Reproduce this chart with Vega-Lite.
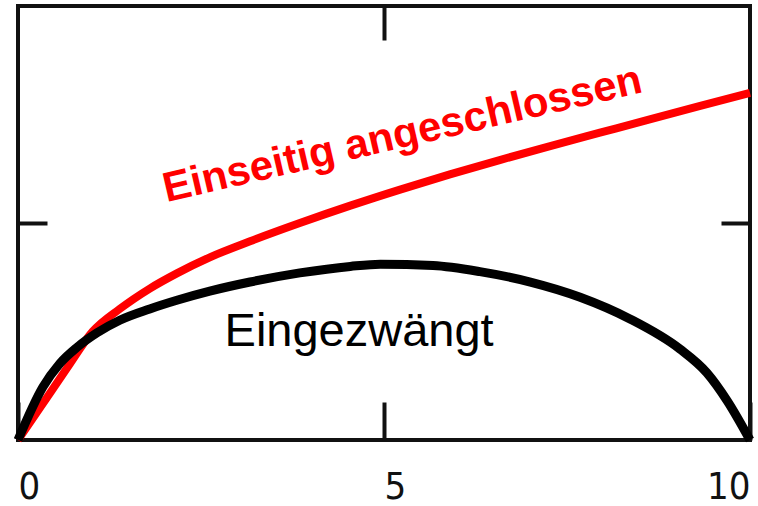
{
  "$schema": "https://vega.github.io/schema/vega-lite/v6.json",
  "width": 732,
  "height": 434,
  "autosize": {"type": "none"},
  "padding": {"left": 18, "top": 6, "right": 8, "bottom": 66},
  "background": "white",
  "config": {
    "view": {"stroke": "#111111", "strokeWidth": 4},
    "axis": {"grid": false, "domain": false, "tickColor": "#111111", "tickWidth": 4}
  },
  "datasets": {
    "curves": [
      {"series": "Eingezwängt", "x": 0, "y": 0},
      {"series": "Eingezwängt", "x": 0.34, "y": 0.122},
      {"series": "Eingezwängt", "x": 0.57, "y": 0.176},
      {"series": "Eingezwängt", "x": 0.81, "y": 0.214},
      {"series": "Eingezwängt", "x": 1.08, "y": 0.247},
      {"series": "Eingezwängt", "x": 1.39, "y": 0.276},
      {"series": "Eingezwängt", "x": 1.8, "y": 0.302},
      {"series": "Eingezwängt", "x": 2.17, "y": 0.322},
      {"series": "Eingezwängt", "x": 2.62, "y": 0.343},
      {"series": "Eingezwängt", "x": 3.17, "y": 0.364},
      {"series": "Eingezwängt", "x": 3.85, "y": 0.385},
      {"series": "Eingezwängt", "x": 4.54, "y": 0.4},
      {"series": "Eingezwängt", "x": 4.95, "y": 0.405},
      {"series": "Eingezwängt", "x": 5.67, "y": 0.402},
      {"series": "Eingezwängt", "x": 6.31, "y": 0.388},
      {"series": "Eingezwängt", "x": 7.0, "y": 0.364},
      {"series": "Eingezwängt", "x": 7.68, "y": 0.329},
      {"series": "Eingezwängt", "x": 8.36, "y": 0.279},
      {"series": "Eingezwängt", "x": 9.04, "y": 0.21},
      {"series": "Eingezwängt", "x": 9.41, "y": 0.155},
      {"series": "Eingezwängt", "x": 9.69, "y": 0.09},
      {"series": "Eingezwängt", "x": 10, "y": 0},
      {"series": "Einseitig angeschlossen", "x": 0, "y": 0},
      {"series": "Einseitig angeschlossen", "x": 0.34, "y": 0.084},
      {"series": "Einseitig angeschlossen", "x": 0.67, "y": 0.166},
      {"series": "Einseitig angeschlossen", "x": 1.02, "y": 0.25},
      {"series": "Einseitig angeschlossen", "x": 1.39, "y": 0.302},
      {"series": "Einseitig angeschlossen", "x": 1.8, "y": 0.349},
      {"series": "Einseitig angeschlossen", "x": 2.17, "y": 0.384},
      {"series": "Einseitig angeschlossen", "x": 2.62, "y": 0.421},
      {"series": "Einseitig angeschlossen", "x": 3.17, "y": 0.458},
      {"series": "Einseitig angeschlossen", "x": 3.85, "y": 0.5},
      {"series": "Einseitig angeschlossen", "x": 4.54, "y": 0.54},
      {"series": "Einseitig angeschlossen", "x": 5.22, "y": 0.577},
      {"series": "Einseitig angeschlossen", "x": 5.9, "y": 0.612},
      {"series": "Einseitig angeschlossen", "x": 6.58, "y": 0.645},
      {"series": "Einseitig angeschlossen", "x": 7.27, "y": 0.677},
      {"series": "Einseitig angeschlossen", "x": 7.95, "y": 0.708},
      {"series": "Einseitig angeschlossen", "x": 8.63, "y": 0.739},
      {"series": "Einseitig angeschlossen", "x": 9.32, "y": 0.77},
      {"series": "Einseitig angeschlossen", "x": 10, "y": 0.8}
    ],
    "labels": [
      {"series": "Einseitig angeschlossen", "x": 5.29, "y": 0.675},
      {"series": "Eingezwängt", "x": 4.66, "y": 0.217}
    ]
  },
  "resolve": {"axis": {"x": "independent", "y": "independent"}},
  "layer": [
    {
      "data": {"name": "curves"},
      "transform": [{"filter": "datum.series === 'Einseitig angeschlossen'"}],
      "mark": {"type": "line", "color": "#ff0000", "strokeWidth": 8, "interpolate": "monotone"},
      "encoding": {
        "x": {
          "field": "x", "type": "quantitative",
          "scale": {"domain": [0, 10], "nice": false, "zero": false},
          "axis": {"orient": "top", "values": [5], "labels": false, "title": null, "tickSize": -34}
        },
        "y": {
          "field": "y", "type": "quantitative",
          "scale": {"domain": [0, 1], "nice": false},
          "axis": {"orient": "right", "values": [0.5], "labels": false, "title": null, "tickSize": -29}
        }
      }
    },
    {
      "data": {"name": "curves"},
      "transform": [{"filter": "datum.series === 'Eingezwängt'"}],
      "mark": {"type": "line", "color": "#000000", "strokeWidth": 9, "interpolate": "monotone"},
      "encoding": {
        "x": {
          "field": "x", "type": "quantitative",
          "axis": {
            "orient": "bottom", "values": [0, 5, 10], "title": null, "tickSize": -38,
            "labelPadding": 66,
            "labelFont": "DejaVu Sans Condensed, DejaVu Sans, sans-serif",
            "labelFontSize": 38, "labelColor": "#111111",
            "labelAlign": {"condition": {"test": "datum.value === 10", "value": "right"}, "value": "left"},
            "labelFlush": false
          }
        },
        "y": {
          "field": "y", "type": "quantitative",
          "axis": {"orient": "left", "values": [0.5], "labels": false, "title": null, "tickSize": -29}
        }
      }
    },
    {
      "data": {"name": "labels"},
      "transform": [{"filter": "datum.series === 'Einseitig angeschlossen'"}],
      "mark": {
        "type": "text", "color": "#ff0000", "font": "Liberation Sans", "fontWeight": "bold",
        "fontSize": 42, "angle": 347, "align": "center", "baseline": "alphabetic"
      },
      "encoding": {
        "x": {"field": "x", "type": "quantitative", "axis": null},
        "y": {"field": "y", "type": "quantitative", "axis": null},
        "text": {"field": "series"}
      }
    },
    {
      "data": {"name": "labels"},
      "transform": [{"filter": "datum.series === 'Eingezwängt'"}],
      "mark": {
        "type": "text", "color": "#000000", "font": "Liberation Sans",
        "fontSize": 47, "align": "center", "baseline": "alphabetic"
      },
      "encoding": {
        "x": {"field": "x", "type": "quantitative", "axis": null},
        "y": {"field": "y", "type": "quantitative", "axis": null},
        "text": {"field": "series"}
      }
    }
  ]
}
